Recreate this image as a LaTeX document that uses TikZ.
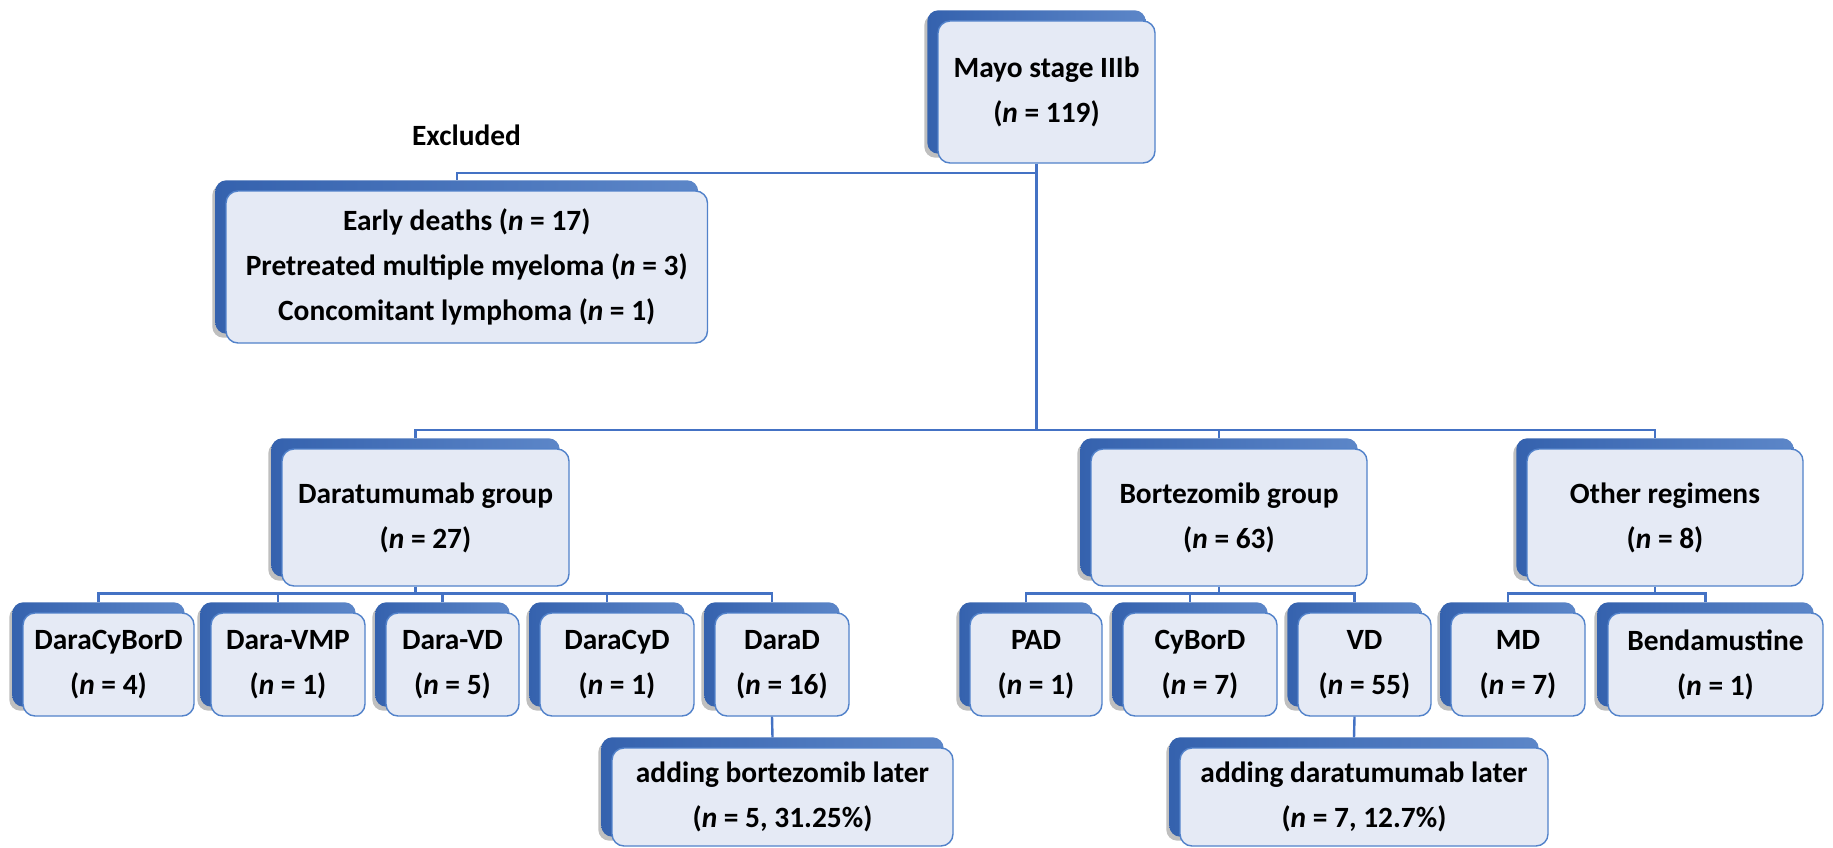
\documentclass[tikz,border=0pt]{standalone}
\usepackage{fontspec}
\setmainfont{Carlito}
\usetikzlibrary{calc,backgrounds,shadows}
\definecolor{backdark}{HTML}{3562AE}
\definecolor{backlight}{HTML}{5C86C8}
\definecolor{frontfill}{HTML}{E5EAF5}
\definecolor{frontline}{HTML}{5282CA}
\definecolor{connblue}{HTML}{4472C4}
\tikzset{
  frontbox/.style={draw=frontline, line width=1.4pt, fill=frontfill, rounded corners=12pt,
    align=center, inner sep=0pt, font=\bfseries\fontsize{29.4}{45}\selectfont},
  backbox/.style={left color=backdark, right color=backlight, rounded corners=11pt,
    drop shadow={shadow xshift=-3pt, shadow yshift=-4pt, opacity=0.25, fill=black}},
  conn/.style={draw=connblue, line width=2.4pt},
  plain/.style={font=\bfseries\fontsize{29.4}{45}\selectfont, inner sep=0pt}
}
\newcommand\flowbox[6]{%
  \node[frontbox, minimum width=#4pt, minimum height=#5pt] (#1) at (#2,#3) {#6};
  \coordinate (#1-t) at ($(#1.north)+(-10,-10)$);
  \coordinate (#1-s) at ($(#1.south)+(-10,0)$);
  \begin{scope}[on background layer]
    \shade[backbox] ($(#1.north west)+(-10,-10)$) rectangle ($(#1.south east)+(-10,-10)$);
  \end{scope}
}
\begin{document}
\begin{tikzpicture}[x=1pt,y=-1pt]
\begin{scope}[on background layer]
  \fill[white] (0,0) rectangle (1833,848);
\end{scope}
\useasboundingbox (0,0) rectangle (1833,848);

\flowbox{mayo}{1046.5}{92}{217}{142}{Mayo stage IIIb\\(\textit{n} = 119)}
\node[plain] (exlabel) at (466.5,135) {Excluded};
\flowbox{excl}{466.75}{267}{481.5}{152}{Early deaths (\textit{n} = 17)\\Pretreated multiple myeloma (\textit{n} = 3)\\Concomitant lymphoma (\textit{n} = 1)}

\flowbox{daragrp}{425.5}{517.5}{287}{137}{Daratumumab group\\(\textit{n} = 27)}
\flowbox{bortgrp}{1229}{517.5}{276}{137}{Bortezomib group\\(\textit{n} = 63)}
\flowbox{othergrp}{1665}{517.5}{276}{137}{Other regimens\\(\textit{n} = 8)}

\flowbox{daracybord}{108.5}{664.5}{171}{103}{DaraCyBorD\\(\textit{n} = 4)}
\flowbox{daravmp}{288}{664.5}{154}{103}{Dara-VMP\\(\textit{n} = 1)}
\flowbox{daravd}{452.5}{664.5}{133}{103}{Dara-VD\\(\textit{n} = 5)}
\flowbox{daracyd}{617}{664.5}{154}{103}{DaraCyD\\(\textit{n} = 1)}
\flowbox{darad}{782}{664.5}{134}{103}{DaraD\\(\textit{n} = 16)}
\flowbox{pad}{1036}{664.5}{132}{103}{PAD\\(\textit{n} = 1)}
\flowbox{cybord}{1200}{664.5}{154}{103}{CyBorD\\(\textit{n} = 7)}
\flowbox{vd}{1364.5}{664.5}{133}{103}{VD\\(\textit{n} = 55)}
\flowbox{md}{1518}{664.5}{134}{103}{MD\\(\textit{n} = 7)}
\flowbox{benda}{1715.5}{664.5}{215}{103}{Bendamustine\\(\textit{n} = 1)}

\flowbox{addbort}{782.5}{797}{341}{98}{adding bortezomib later\\(\textit{n} = 5, 31.25\%)}
\flowbox{adddara}{1364}{797}{368}{98}{adding daratumumab later\\(\textit{n} = 7, 12.7\%)}

\coordinate (L1) at (0,173);
\coordinate (L2) at (0,430);
\coordinate (L3) at (0,593.5);

% level 1
\draw[conn] (mayo-s) -- (mayo-s |- L2);
\draw[conn] (mayo-s |- L1) -| (excl-t);
% level 2
\draw[conn] (daragrp-t) |- (othergrp-t |- L2) -- (othergrp-t);
\draw[conn] (bortgrp-t) -- (bortgrp-t |- L2);
% daratumumab children
\draw[conn] (daragrp-s) -- (daragrp-s |- L3);
\draw[conn] (daracybord-t) |- (darad-t |- L3) -- (darad-t);
\draw[conn] (daravmp-t) -- (daravmp-t |- L3);
\draw[conn] (daravd-t) -- (daravd-t |- L3);
\draw[conn] (daracyd-t) -- (daracyd-t |- L3);
% bortezomib children
\draw[conn] (bortgrp-s) -- (bortgrp-s |- L3);
\draw[conn] (pad-t) |- (vd-t |- L3) -- (vd-t);
\draw[conn] (cybord-t) -- (cybord-t |- L3);
% other children
\draw[conn] (othergrp-s) -- (othergrp-s |- L3);
\draw[conn] (md-t) |- (benda-t |- L3) -- (benda-t);
% later additions
\draw[conn] (darad-s) -- (addbort-t);
\draw[conn] (vd-s) -- (adddara-t);
\end{tikzpicture}
\end{document}
